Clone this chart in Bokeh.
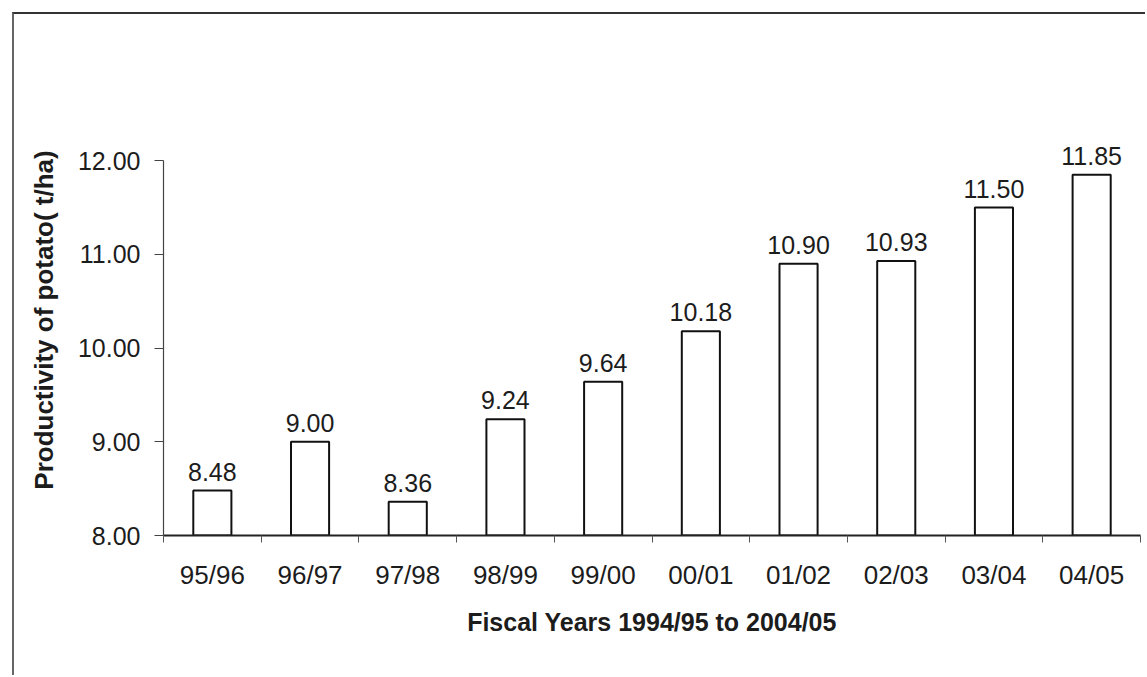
from bokeh.plotting import figure
from bokeh.models import ColumnDataSource, FixedTicker, Range1d
from bokeh.core.properties import value
from bokeh.embed import file_html
from bokeh.resources import INLINE
import numpy as np

years = ["95/96", "96/97", "97/98", "98/99", "99/00", "00/01", "01/02", "02/03", "03/04", "04/05"]
productivity = [8.48, 9.00, 8.36, 9.24, 9.64, 10.18, 10.90, 10.93, 11.50, 11.85]
y_ticks = [8, 9, 10, 11, 12]
y_tick_labels = ["8.00", "9.00", "10.00", "11.00", "12.00"]

xpos = np.arange(len(years)) + 0.5
src = ColumnDataSource(dict(x=xpos, top=productivity, label=["%.2f" % v for v in productivity]))

FONT = "Liberation Sans"
TXT = "#1c1c1c"

p = figure(width=1133, height=663, output_backend="svg", toolbar_location=None,
           x_range=Range1d(0, len(years)), y_range=Range1d(8, 12.6),
           min_border_left=149, min_border_right=7, min_border_top=90, min_border_bottom=142,
           margin=(12, 0, 0, 12),
           styles={"border-left": "2px solid #666", "border-top": "2px solid #333"})
p.outline_line_color = None
p.xgrid.grid_line_color = None
p.ygrid.grid_line_color = None
p.background_fill_color = "white"
p.border_fill_color = "white"

p.vbar(x="x", top="top", bottom=8, width=0.39, source=src,
       fill_color="white", line_color="#111111", line_width=2)
p.text(x="x", y="top", text="label", source=src, y_offset=-10,
       text_align="center", text_baseline="bottom",
       text_font=value(FONT), text_font_size="25px", text_color=TXT)

# y axis
ya = p.yaxis[0]
ya.ticker = FixedTicker(ticks=y_ticks, minor_ticks=[])
ya.major_label_overrides = {t: l for t, l in zip(y_ticks, y_tick_labels)}
ya.bounds = (8, 12)
ya.axis_line_color = "#444444"
ya.axis_line_width = 1.2
ya.major_tick_line_color = "#444444"
ya.major_tick_line_width = 1.2
ya.major_tick_out = 9
ya.major_tick_in = 0
ya.major_label_standoff = 14
ya.major_label_text_font = FONT
ya.major_label_text_font_size = "25px"
ya.major_label_text_color = TXT
ya.axis_label = "Productivity of potato( t/ha)"
ya.axis_label_text_font = FONT
ya.axis_label_text_font_style = "bold"
ya.axis_label_text_font_size = "26px"
ya.axis_label_text_color = TXT
ya.axis_label_standoff = 16

# x axis
xa = p.xaxis[0]
xa.ticker = FixedTicker(ticks=list(xpos), minor_ticks=list(range(len(years) + 1)))
xa.major_label_overrides = {float(x): y for x, y in zip(xpos, years)}
xa.axis_line_color = "#222222"
xa.axis_line_width = 2
xa.major_tick_line_color = None
xa.major_tick_out = 0
xa.major_tick_in = 0
xa.minor_tick_line_color = "#555555"
xa.minor_tick_out = 7
xa.minor_tick_in = 0
xa.major_label_standoff = 17
xa.major_label_text_font = FONT
xa.major_label_text_font_size = "26px"
xa.major_label_text_color = TXT
xa.axis_label = "Fiscal Years 1994/95 to 2004/05"
xa.axis_label_text_font = FONT
xa.axis_label_text_font_style = "bold"
xa.axis_label_text_font_size = "25px"
xa.axis_label_text_color = TXT
xa.axis_label_standoff = 15

open("out.html", "w").write(file_html(p, INLINE))
